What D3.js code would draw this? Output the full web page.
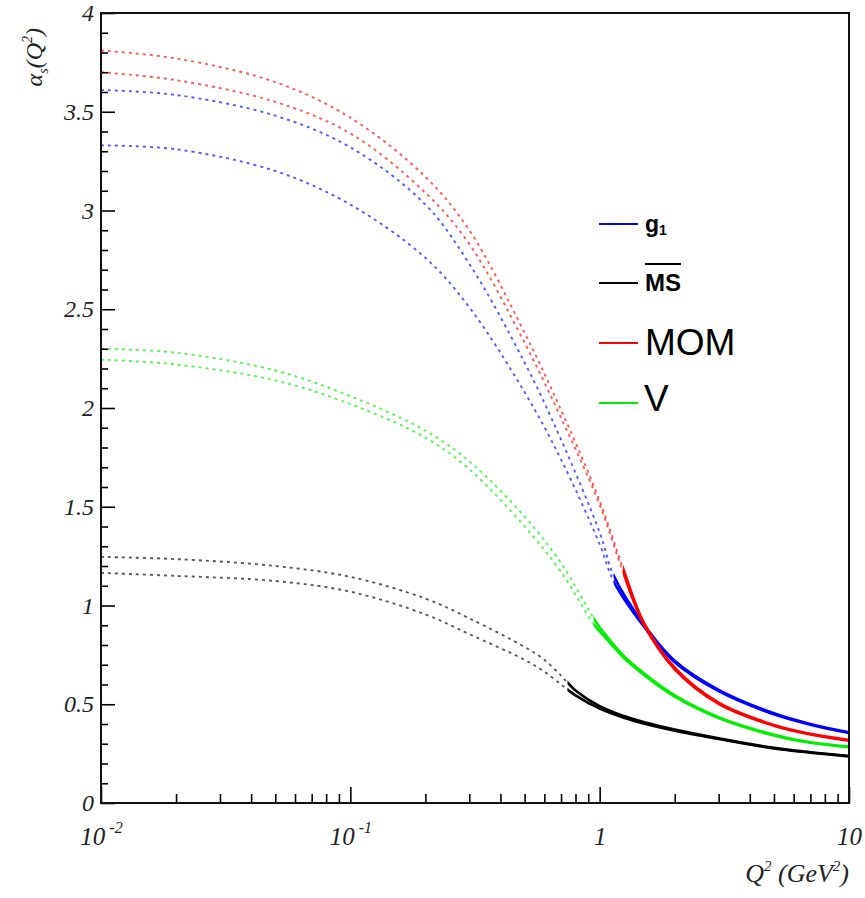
<!DOCTYPE html>
<html>
<head>
<meta charset="utf-8">
<script src="https://d3js.org/d3.v7.min.js"></script>
<style>
  html, body { margin: 0; padding: 0; background: #fff; }
  svg { display: block; }
</style>
</head>
<body>
<div id="chart"></div>
<script>
// ---------------- data ----------------
const schemeNames = ["g1", "MS", "MOM", "V"];
const schemeColors = ["#0000ff", "#000000", "#ff0000", "#00ee00"];

// g1 scheme
const g1Q2      = [0.01, 0.02, 0.05, 0.1, 0.2, 0.3, 0.5, 0.7, 1.0, 1.14, 1.5, 2, 3, 5, 7, 10];
const g1Upper   = [3.61, 3.585, 3.48, 3.32, 3.03, 2.73, 2.23, 1.84, 1.37, 1.15, 0.906, 0.72, 0.573, 0.454, 0.40, 0.358];
const g1Lower   = [3.33, 3.31, 3.20, 3.03, 2.76, 2.51, 2.08, 1.74, 1.31, 1.12, 0.895, 0.712, 0.566, 0.449, 0.396, 0.354];
const g1Transition = 1.14;

// MS-bar scheme
const msQ2      = [0.01, 0.02, 0.05, 0.1, 0.2, 0.3, 0.5, 0.6, 0.7, 0.743, 0.8, 1.0, 1.25, 1.5, 2, 3, 5, 7, 10];
const msUpper   = [1.246, 1.235, 1.20, 1.145, 1.035, 0.935, 0.79, 0.725, 0.645, 0.61, 0.57, 0.49, 0.44, 0.41, 0.372, 0.328, 0.279, 0.257, 0.238];
const msLower   = [1.165, 1.15, 1.124, 1.07, 0.955, 0.855, 0.725, 0.665, 0.60, 0.575, 0.545, 0.478, 0.432, 0.403, 0.366, 0.324, 0.276, 0.255, 0.236];
const msTransition = 0.743;

// MOM scheme
const momQ2     = [0.01, 0.02, 0.05, 0.1, 0.2, 0.3, 0.5, 0.7, 1.0, 1.24, 1.5, 2, 3, 5, 7, 10];
const momUpper  = [3.81, 3.77, 3.65, 3.47, 3.17, 2.90, 2.38, 1.99, 1.53, 1.19, 0.916, 0.685, 0.508, 0.395, 0.35, 0.319];
const momLower  = [3.70, 3.66, 3.55, 3.39, 3.09, 2.83, 2.33, 1.95, 1.51, 1.17, 0.905, 0.677, 0.502, 0.391, 0.347, 0.316];
const momTransition = 1.24;

// V scheme
const vQ2       = [0.01, 0.02, 0.05, 0.1, 0.2, 0.3, 0.5, 0.7, 0.946, 1.0, 1.25, 1.5, 2, 3, 5, 7, 10];
const vUpper    = [2.30, 2.28, 2.19, 2.06, 1.885, 1.73, 1.45, 1.215, 0.935, 0.89, 0.745, 0.658, 0.545, 0.435, 0.346, 0.308, 0.286];
const vLower    = [2.245, 2.22, 2.14, 2.02, 1.85, 1.69, 1.40, 1.17, 0.905, 0.87, 0.735, 0.65, 0.538, 0.43, 0.342, 0.305, 0.283];
const vTransition = 0.946;

// axes
const xDomain = [0.01, 10];
const yDomain = [0, 4];
const xMajorTicks = [0.01, 0.1, 1, 10];
const xTickBase = ["10", "10", "1", "10"];
const xTickExp  = ["-2", "-1", "", ""];
const yMajorTicks = [0, 0.5, 1, 1.5, 2, 2.5, 3, 3.5, 4];
const yTickLabels = ["0", "0.5", "1", "1.5", "2", "2.5", "3", "3.5", "4"];

// ---------------- drawing ----------------
const W = 865, H = 898;
const L = 101, R = 849, T = 13, B = 803;

const svg = d3.select("#chart").append("svg")
  .attr("width", W).attr("height", H);

const x = d3.scaleLog().domain(xDomain).range([L, R]);
const y = d3.scaleLinear().domain(yDomain).range([B, T]);

const series = [
  { name: "g1",  q2: g1Q2,  up: g1Upper,  lo: g1Lower,  tr: g1Transition,  color: schemeColors[0] },
  { name: "MS",  q2: msQ2,  up: msUpper,  lo: msLower,  tr: msTransition,  color: schemeColors[1] },
  { name: "MOM", q2: momQ2, up: momUpper, lo: momLower, tr: momTransition, color: schemeColors[2] },
  { name: "V",   q2: vQ2,   up: vUpper,   lo: vLower,   tr: vTransition,   color: schemeColors[3] }
];

const defs = svg.append("defs");
const line = d3.line()
  .x(d => x(d[0]))
  .y(d => y(d[1]))
  .curve(d3.curveCatmullRom.alpha(0.5));

// curves: dashed (extrapolated) below transition, solid above
const curvesG = svg.append("g");
series.forEach((s, i) => {
  const xt = x(s.tr);
  defs.append("clipPath").attr("id", "clipDash" + i)
    .append("rect").attr("x", L).attr("y", T).attr("width", xt - L).attr("height", B - T);
  defs.append("clipPath").attr("id", "clipSolid" + i)
    .append("rect").attr("x", xt).attr("y", T).attr("width", R - xt).attr("height", B - T);
  [s.up, s.lo].forEach(vals => {
    const pts = s.q2.map((q, k) => [q, vals[k]]);
    curvesG.append("path")
      .attr("d", line(pts))
      .attr("fill", "none")
      .attr("stroke", s.color)
      .attr("stroke-width", 1.9)
      .attr("stroke-opacity", 0.65)
      .attr("stroke-dasharray", "3,4")
      .attr("clip-path", `url(#clipDash${i})`);
    curvesG.append("path")
      .attr("d", line(pts))
      .attr("fill", "none")
      .attr("stroke", s.color)
      .attr("stroke-width", 2.6)
      .attr("clip-path", `url(#clipSolid${i})`);
  });
});

// y axis ticks (inward)
const yMinor = d3.range(0, 4.0001, 0.1).filter(v => Math.abs(v * 2 - Math.round(v * 2)) > 1e-6);
svg.append("g").attr("transform", `translate(${L},0)`)
  .call(d3.axisLeft(y).tickValues(yMinor).tickSize(-7).tickSizeOuter(0).tickFormat(""))
  .call(g => g.select(".domain").remove())
  .call(g => g.selectAll("line").attr("stroke", "#000").attr("stroke-width", 1.6));
const yAx = svg.append("g").attr("transform", `translate(${L},0)`)
  .call(d3.axisLeft(y).tickValues(yMajorTicks).tickSize(-14).tickSizeOuter(0).tickPadding(7)
    .tickFormat((d, i) => yTickLabels[i]))
  .call(g => g.select(".domain").remove());
yAx.selectAll("line").attr("stroke", "#000").attr("stroke-width", 1.6);
yAx.selectAll("text")
  .attr("font-family", "'Liberation Serif', 'Times New Roman', serif")
  .attr("font-style", "italic")
  .attr("font-size", 24)
  .attr("fill", "#222");

// x axis ticks (inward)
const xMinor = [];
[0.01, 0.1, 1].forEach(dec => { for (let k = 2; k <= 9; k++) xMinor.push(dec * k); });
svg.append("g").attr("transform", `translate(0,${B})`)
  .call(d3.axisBottom(x).tickValues(xMinor).tickSize(-9).tickSizeOuter(0).tickFormat(""))
  .call(g => g.select(".domain").remove())
  .call(g => g.selectAll("line").attr("stroke", "#000").attr("stroke-width", 1.6));
const xAx = svg.append("g").attr("transform", `translate(0,${B})`)
  .call(d3.axisBottom(x).tickValues(xMajorTicks).tickSize(-16).tickSizeOuter(0).tickPadding(0)
    .tickFormat(""))
  .call(g => g.select(".domain").remove());
xAx.selectAll("line").attr("stroke", "#000").attr("stroke-width", 1.6);
xAx.selectAll(".tick text").remove();
xAx.selectAll(".tick").each(function (d, i) {
  const t = d3.select(this).append("text")
    .attr("y", 42)
    .attr("text-anchor", "middle")
    .attr("font-family", "'Liberation Serif', 'Times New Roman', serif")
    .attr("font-style", "italic")
    .attr("font-size", 25)
    .attr("fill", "#222");
  t.append("tspan").text(xTickBase[i]);
  if (xTickExp[i]) {
    t.append("tspan").attr("dx", 4).attr("dy", -12).attr("font-size", 16).text(xTickExp[i]);
  }
});

// frame
svg.append("rect")
  .attr("x", L).attr("y", T).attr("width", R - L).attr("height", B - T)
  .attr("fill", "none").attr("stroke", "#111").attr("stroke-width", 2);

// axis titles
const serif = "'Liberation Serif', 'Times New Roman', serif";
const xt = svg.append("text")
  .attr("x", R).attr("y", 882)
  .attr("text-anchor", "end")
  .attr("font-family", serif).attr("font-style", "italic").attr("font-size", 26)
  .attr("fill", "#222");
xt.append("tspan").text("Q");
xt.append("tspan").attr("dy", -11).attr("font-size", 15).text("2");
xt.append("tspan").attr("dy", 11).text(" (GeV");
xt.append("tspan").attr("dy", -11).attr("font-size", 15).text("2");
xt.append("tspan").attr("dy", 11).text(")");

const yt = svg.append("text")
  .attr("transform", "translate(42,28) rotate(-90)")
  .attr("text-anchor", "end")
  .attr("font-family", serif).attr("font-style", "italic").attr("font-size", 24)
  .attr("fill", "#222");
yt.append("tspan").text("α");
yt.append("tspan").attr("dy", 6).attr("font-size", 14).text("s");
yt.append("tspan").attr("dy", -6).text("(Q");
yt.append("tspan").attr("dy", -10).attr("font-size", 14).text("2");
yt.append("tspan").attr("dy", 10).text(")");

// legend
const legendY = [224, 283, 343, 403];
const legG = svg.append("g");
const sans = "'Liberation Sans', Arial, Helvetica, sans-serif";
series.forEach((s, i) => {
  legG.append("line")
    .attr("x1", 599).attr("x2", 638)
    .attr("y1", legendY[i]).attr("y2", legendY[i])
    .attr("stroke", s.color).attr("stroke-width", 2);
});
// g1
const lg1 = legG.append("text").attr("x", 645).attr("y", 232)
  .attr("font-family", sans).attr("font-weight", "bold").attr("font-size", 23).attr("fill", "#000");
lg1.append("tspan").text("g");
lg1.append("tspan").attr("dy", 3).attr("font-size", 14).text("1");
// MS-bar
const lms = legG.append("text").attr("x", 645).attr("y", 291)
  .attr("font-family", sans).attr("font-weight", "bold").attr("font-size", 24).attr("fill", "#000")
  .text("MS");
const msW = lms.node().getComputedTextLength();
legG.append("line").attr("x1", 645).attr("x2", 645 + msW)
  .attr("y1", 264).attr("y2", 264).attr("stroke", "#000").attr("stroke-width", 2);
// MOM
legG.append("text").attr("x", 645).attr("y", 355)
  .attr("font-family", sans).attr("font-size", 37).attr("fill", "#000").text("MOM");
// V
legG.append("text").attr("x", 644).attr("y", 411)
  .attr("font-family", sans).attr("font-size", 37).attr("fill", "#000").text("V");
</script>
</body>
</html>
